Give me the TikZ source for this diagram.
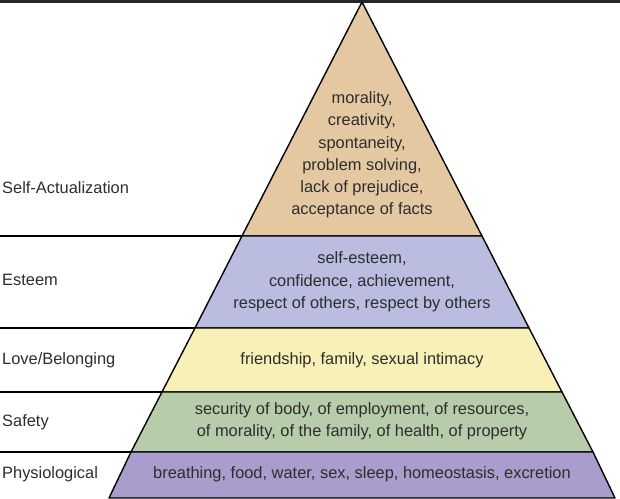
\documentclass[tikz,border=0pt]{standalone}
\usepackage{fontspec}
\setmainfont{Liberation Sans}
\usetikzlibrary{positioning}

\definecolor{tanband}{RGB}{228,200,162}
\definecolor{blueband}{RGB}{186,188,224}
\definecolor{yellowband}{RGB}{248,240,182}
\definecolor{greenband}{RGB}{182,204,170}
\definecolor{purpleband}{RGB}{170,156,204}
\definecolor{textgray}{RGB}{45,45,45}

\begin{document}
\begin{tikzpicture}[x=0.03cm, y=-0.03cm,
    % Styles
    band/.style={draw=black, line width=1.2pt, line join=round},
    sep/.style={draw=black, line width=1.2pt},
    level/.style={anchor=west, font=\fontsize{14}{17}\selectfont, text=textgray, inner sep=0pt},
    needs/.style={align=center, font=\fontsize{14}{19}\selectfont, text=textgray, inner sep=0pt}
]
\useasboundingbox (0,0) rectangle (620,498);
\fill[black!85] (0,0) rectangle (620,2.5);

% Corners of the pyramid
\coordinate (apex) at (362,2);
\coordinate (l1) at (242,236); \coordinate (r1) at (482,236);
\coordinate (l2) at (195,328); \coordinate (r2) at (529,328);
\coordinate (l3) at (162,392); \coordinate (r3) at (562,392);
\coordinate (l4) at (131,452); \coordinate (r4) at (593,452);
\coordinate (l5) at (109,498); \coordinate (r5) at (615,498);

% Bands
\filldraw[band, fill=tanband] (apex) -- (r1) -- (l1) -- cycle;
\filldraw[band, fill=blueband] (l1) -- (r1) -- (r2) -- (l2) -- cycle;
\filldraw[band, fill=yellowband] (l2) -- (r2) -- (r3) -- (l3) -- cycle;
\filldraw[band, fill=greenband] (l3) -- (r3) -- (r4) -- (l4) -- cycle;
\filldraw[band, fill=purpleband] (l4) -- (r4) -- (r5) -- (l5) -- cycle;

% Separators to the left
\coordinate (s1) at (0,236); \coordinate (s2) at (0,328);
\coordinate (s3) at (0,392); \coordinate (s4) at (0,452);
\draw[sep] (s1) -- (l1);
\draw[sep] (s2) -- (l2);
\draw[sep] (s3) -- (l3);
\draw[sep] (s4) -- (l4);

% Level names
\node[level] (selfact) at (2,188) {Self-Actualization};
\node[level] (esteem) at (2,280) {Esteem};
\node[level] (love) at (2,360) {Love/Belonging};
\node[level] (safety) at (2,422) {Safety};
\node[level] (physio) at (2,474) {Physiological};

% Needs
\node[needs] (selfactneeds) at (362,155) {morality,\\creativity,\\spontaneity,\\problem solving,\\lack of prejudice,\\acceptance of facts};
\node[needs] (esteemneeds) at (362,282) {self-esteem,\\confidence, achievement,\\respect of others, respect by others};
\node[needs] (loveneeds) at (362,360) {friendship, family, sexual intimacy};
\node[needs] (safetyneeds) at (362,421) {security of body, of employment, of resources,\\of morality, of the family, of health, of property};
\node[needs] (physioneeds) at (362,474) {breathing, food, water, sex, sleep, homeostasis, excretion};

\end{tikzpicture}
\end{document}
